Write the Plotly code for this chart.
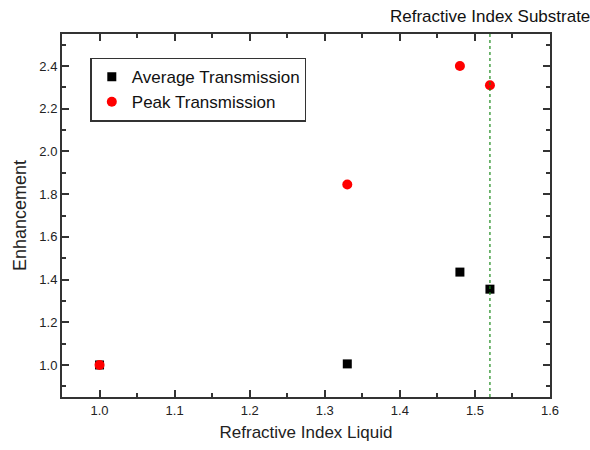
import plotly.graph_objects as go

x_vals = [1.0, 1.33, 1.48, 1.52]
avg_trans = [1.0, 1.005, 1.435, 1.355]
peak_trans = [1.0, 1.845, 2.40, 2.31]
substrate_index = 1.52

fig = go.Figure()
fig.add_trace(go.Scatter(x=x_vals, y=avg_trans, mode="markers", name="Average Transmission",
                         marker=dict(symbol="square", size=9, color="black")))
fig.add_trace(go.Scatter(x=x_vals, y=peak_trans, mode="markers", name="Peak Transmission",
                         marker=dict(symbol="circle", size=10, color="#ff0000")))

fig.add_shape(type="line", x0=substrate_index, x1=substrate_index, y0=0, y1=1,
              xref="x", yref="paper", line=dict(color="#1a8a1a", width=1.2, dash="dot"))
fig.add_annotation(x=substrate_index, y=1, xref="x", yref="paper", yanchor="bottom", yshift=6,
                   text="Refractive Index Substrate", showarrow=False,
                   font=dict(size=17, color="#111111"))

axis_common = dict(showline=True, linecolor="#333333", linewidth=2, mirror="ticks",
                   ticks="inside", ticklen=7, tickwidth=1.5, tickcolor="#333333",
                   showgrid=False, zeroline=False,
                   tickfont=dict(size=13, color="#222222"))

fig.update_xaxes(range=[0.95, 1.6], dtick=0.1, tick0=1.0, tickformat=".1f",
                 title=dict(text="Refractive Index Liquid", font=dict(size=17, color="#222222"), standoff=10),
                 minor=dict(ticks="inside", dtick=0.05, ticklen=4, tickcolor="#333333", tickwidth=1.5),
                 **axis_common)
fig.update_yaxes(range=[0.85, 2.55], dtick=0.2, tick0=1.0, tickformat=".1f",
                 title=dict(text="Enhancement", font=dict(size=18, color="#222222"), standoff=8),
                 minor=dict(ticks="inside", dtick=0.1, ticklen=4, tickcolor="#333333", tickwidth=1.5),
                 **axis_common)

fig.update_layout(
    width=590, height=450,
    margin=dict(l=62, r=40, t=34, b=53),
    plot_bgcolor="white", paper_bgcolor="white",
    font=dict(family="Liberation Sans, Arial, sans-serif", color="#222222"),
    legend=dict(x=0.058, y=0.935, xanchor="left", yanchor="top",
                bordercolor="#333333", borderwidth=1.5, bgcolor="white",
                font=dict(size=17, color="#111111"), itemwidth=30, tracegroupgap=0),
)

fig.write_html("out.html")
